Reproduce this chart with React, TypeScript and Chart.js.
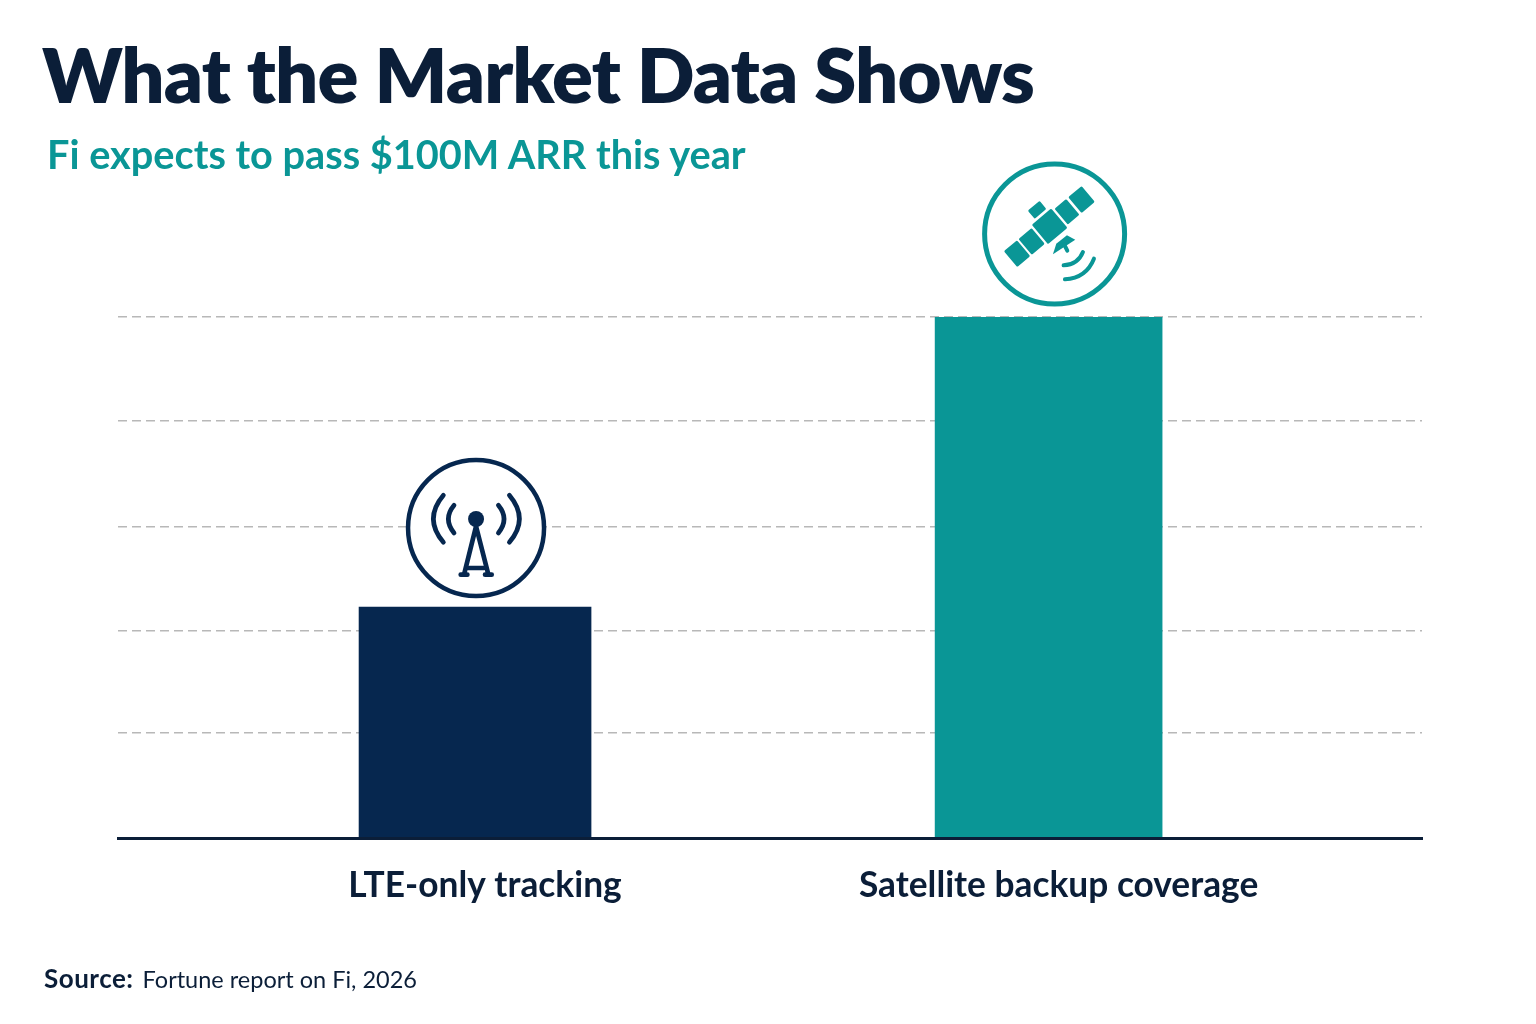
import { useEffect, useRef } from "react";
import { Chart, registerables } from "chart.js";

Chart.register(...registerables);

const categories = ["LTE-only tracking", "Satellite backup coverage"];
const values = [2.217, 5];
const gridValues = [0, 1.008, 1.987, 2.985, 4.002, 5];
const barColors = ["#06274f", "#0a9696"];
const barWidths = [232, 227];

const NAVY = "#0b1e38";
const TEAL = "#0a9696";
const FONT = "Lato, sans-serif";

// icons are traced at 3x, so everything below is in 1/3 px around the circle centre
function line(ctx: CanvasRenderingContext2D, pts: number[][]) {
  ctx.beginPath();
  pts.forEach((p, i) => (i ? ctx.lineTo(p[0], p[1]) : ctx.moveTo(p[0], p[1])));
  ctx.stroke();
}

function curve(ctx: CanvasRenderingContext2D, a: number[], c: number[], b: number[]) {
  ctx.beginPath();
  ctx.moveTo(a[0], a[1]);
  ctx.quadraticCurveTo(c[0], c[1], b[0], b[1]);
  ctx.stroke();
}

function badge(ctx: CanvasRenderingContext2D, x: number, y: number, r: number, lw: number, color: string) {
  ctx.beginPath();
  ctx.arc(x, y, r, 0, Math.PI * 2);
  ctx.fillStyle = "#ffffff";
  ctx.fill();
  ctx.lineWidth = lw;
  ctx.strokeStyle = color;
  ctx.stroke();
}

function drawTower(ctx: CanvasRenderingContext2D, x: number, y: number) {
  badge(ctx, x, y, 68, 4.5, "#06274f");
  ctx.save();
  ctx.translate(x, y);
  ctx.scale(1 / 3, 1 / 3);
  ctx.strokeStyle = "#06274f";
  ctx.fillStyle = "#06274f";
  ctx.lineWidth = 14;
  ctx.lineCap = "round";
  ctx.beginPath();
  ctx.arc(0, -27, 24, 0, Math.PI * 2);
  ctx.fill();
  line(ctx, [[-36, 140], [0, -5], [37, 140]]);
  line(ctx, [[-24, 120], [24, 120]]);
  line(ctx, [[-46, 140], [-26, 140]]);
  line(ctx, [[27, 140], [47, 140]]);
  curve(ctx, [-66, -68], [-100, -27], [-66, 15]);
  curve(ctx, [-98, -98], [-158, -27], [-98, 43]);
  curve(ctx, [67, -68], [101, -27], [67, 15]);
  curve(ctx, [100, -98], [160, -27], [100, 43]);
  ctx.restore();
}

function drawSatellite(ctx: CanvasRenderingContext2D, x: number, y: number) {
  badge(ctx, x, y, 70, 5, TEAL);
  ctx.save();
  ctx.translate(x, y);
  ctx.scale(1 / 3, 1 / 3);
  ctx.fillStyle = TEAL;
  ctx.strokeStyle = TEAL;
  ctx.lineCap = "round";
  ctx.lineJoin = "round";

  ctx.save();
  ctx.translate(-15, -23);
  ctx.rotate((-40 * Math.PI) / 180);
  const rects = [
    [-38, -38, 76, 76],
    [45, -31, 46, 62],
    [99, -31, 52, 62],
    [-96, -31, 51, 62],
    [-153, -31, 51, 62],
    [-20, -78, 46, 32],
  ];
  rects.forEach(([rx, ry, w, h]) => {
    ctx.beginPath();
    ctx.roundRect(rx, ry, w, h, 4);
    ctx.fill();
  });
  ctx.restore();

  ctx.beginPath();
  ctx.moveTo(-5, 61);
  ctx.lineTo(5, 29);
  ctx.lineTo(37, 4);
  ctx.lineTo(62, 17);
  ctx.closePath();
  ctx.fill();
  ctx.lineWidth = 12;
  line(ctx, [[28, 30], [38, 50]]);
  ctx.lineWidth = 12;
  curve(ctx, [27, 94], [70, 92], [85, 54]);
  curve(ctx, [31, 136], [95, 132], [118, 74]);
  ctx.restore();
}

const iconPlugin = {
  id: "icons",
  afterDatasetsDraw(chart: any) {
    const { ctx, scales } = chart;
    ctx.save();
    drawTower(ctx, scales.x.getPixelForValue(0) + 1, scales.y.getPixelForValue(values[0]) - 79);
    drawSatellite(ctx, scales.x.getPixelForValue(1) + 6, scales.y.getPixelForValue(values[1]) - 83);
    ctx.restore();
  },
};

export default function App() {
  const canvasRef = useRef<HTMLCanvasElement | null>(null);

  useEffect(() => {
    if (!canvasRef.current) return;
    const chart = new Chart(canvasRef.current, {
      type: "bar",
      data: {
        datasets: categories.map((name, i) => ({
          label: name,
          data: [{ x: i, y: values[i] }],
          backgroundColor: barColors[i],
          barThickness: barWidths[i],
          grouped: false,
        })),
      } as any,
      options: {
        responsive: false,
        animation: false,
        layout: { padding: { left: 118, right: 114, top: 317, bottom: 0 } },
        plugins: { legend: { display: false }, tooltip: { enabled: false } },
        scales: {
          x: {
            type: "linear",
            offset: false,
            min: -0.6225,
            max: 1.651,
            grid: { display: false },
            border: { color: NAVY, width: 3, z: 1 },
            afterFit: (s: any) => { s.height = 186; },
            afterBuildTicks: (s: any) => { s.ticks = categories.map((_, i) => ({ value: i })); },
            ticks: {
              autoSkip: false,
              maxRotation: 0,
              labelOffset: 10,
              padding: 18,
              color: NAVY,
              font: { family: FONT, size: 35.3, weight: 700 },
              callback: (v: any) => categories[v],
            },
          },
          y: {
            min: 0,
            max: 5,
            grid: { color: "#b8b8b8", lineWidth: 1.5, drawTicks: false },
            border: { display: false, dash: [9, 5] },
            afterFit: (s: any) => { s.width = 0; },
            afterBuildTicks: (s: any) => { s.ticks = gridValues.map((value) => ({ value })); },
            ticks: { display: false },
          },
        },
      } as any,
      plugins: [iconPlugin],
    });
    return () => chart.destroy();
  }, []);

  return (
    <div style={{ position: "absolute", left: 0, top: 0, width: 1536, height: 1024, background: "#fff", overflow: "hidden", fontFamily: FONT }}>
      <canvas ref={canvasRef} width={1536} height={1024} style={{ position: "absolute", left: 0, top: 0 }} />
      <h1 style={{ position: "absolute", left: 42, top: 28, margin: 0, fontSize: 76, letterSpacing: -0.85, lineHeight: "92px", fontWeight: 800, color: NAVY, whiteSpace: "nowrap" }}>
        What the Market Data Shows
      </h1>
      <div style={{ position: "absolute", left: 47, top: 130, fontSize: 39.7, lineHeight: "48px", fontWeight: 700, color: TEAL, whiteSpace: "nowrap" }}>
        Fi expects to pass $100M ARR this year
      </div>
      <div style={{ position: "absolute", left: 44, top: 962, fontSize: 23.5, lineHeight: "32px", color: NAVY, whiteSpace: "nowrap" }}>
        <b style={{ fontSize: 26, letterSpacing: 0.5, marginRight: 3 }}>Source:</b> Fortune report on Fi, 2026
      </div>
    </div>
  );
}
